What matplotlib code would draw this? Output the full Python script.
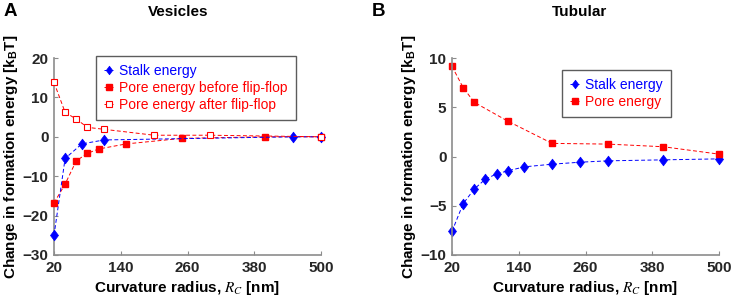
import numpy as np
import matplotlib
matplotlib.use("Agg")
from matplotlib import pyplot as plt
from matplotlib.path import Path

plt.rcParams['font.family'] = ['Liberation Sans', 'DejaVu Sans']
plt.rcParams['mathtext.fontset'] = 'stix'

# vesicles (panel A)
ves_stalk_x = [20, 40, 70, 110, 450, 500]
ves_stalk_y = [-25.0, -5.5, -1.8, -0.8, 0.0, 0.0]
ves_pore_before_x = [20, 40, 60, 80, 100, 150, 250, 400, 500]
ves_pore_before_y = [-16.8, -12.0, -6.1, -4.2, -3.1, -1.8, -0.4, 0.0, 0.0]
ves_pore_after_x = [20, 40, 60, 80, 110, 200, 300, 500]
ves_pore_after_y = [13.8, 6.2, 4.5, 2.4, 1.9, 0.4, 0.4, 0.0]

# tubular (panel B)
tub_stalk_x = [20, 40, 60, 80, 100, 120, 150, 200, 250, 300, 400, 500]
tub_stalk_y = [-7.6, -4.8, -3.3, -2.3, -1.77, -1.46, -1.05, -0.78, -0.58, -0.44, -0.34, -0.24]
tub_pore_x = [20, 40, 60, 120, 200, 300, 400, 500]
tub_pore_y = [9.15, 7.0, 5.5, 3.6, 1.33, 1.26, 0.99, 0.24]

xticks = [20, 140, 260, 380, 500]

BLUE = '#0000ff'
RED = '#ff0000'
AXC = '#8c8c8c'
TXC = '#262626'

# matlab-ish diamond, a bit narrower than tall
diamond = Path([(0, 1), (0.75, 0), (0, -1), (-0.75, 0), (0, 1)],
               [Path.MOVETO, Path.LINETO, Path.LINETO, Path.LINETO, Path.CLOSEPOLY])

fig = plt.figure(figsize=(7.33, 3.03), dpi=100)
W, H = 733, 303
axA = fig.add_axes([54 / W, 1 - 255 / H, 267 / W, 197 / H])
axB = fig.add_axes([452 / W, 1 - 255 / H, 267 / W, 197 / H])

line_kw = dict(ls=(0, (4, 2.5)), lw=0.7, clip_on=False)
dia_kw = dict(marker=diamond, ms=7.7, mfc=BLUE, mec=BLUE, mew=0.5, color=BLUE)
sq_kw = dict(marker='s', ms=4.6, mfc=RED, mec=RED, color=RED)


def style(ax, ylim, yticks, title, tx, letter, lx):
    ax.set_xlim(20, 500)
    ax.set_ylim(*ylim)
    ax.set_xticks(xticks)
    ax.set_yticks(yticks)
    for s in ['top', 'right']:
        ax.spines[s].set_visible(False)
    for s in ['left', 'bottom']:
        ax.spines[s].set_color(AXC)
        ax.spines[s].set_linewidth(1.2)
    ax.tick_params(direction='in', length=3, color=AXC, labelsize=11, labelcolor=TXC, pad=4)
    for lab in ax.get_xticklabels() + ax.get_yticklabels():
        lab.set_fontweight('bold')
    ax.set_xlabel('Curvature radius, $R_C$ [nm]', fontsize=11, fontweight='bold', color='black')
    ax.xaxis.set_label_coords(0.5, -0.122)
    ax.set_ylabel('Change in formation energy [k$_\\mathregular{B}$T]', fontsize=11,
                  fontweight='bold', color='black')
    ax.yaxis.set_label_coords(-0.128, 0.5)
    fig.text(tx / W, 1 - 12 / H, title, fontsize=11, fontweight='bold', ha='center', va='center')
    fig.text(lx / W, 1 - 12 / H, letter, fontsize=13.5, fontweight='bold', va='center', ha='left')


def legend_style(leg, colors):
    leg.get_frame().set_linewidth(1.0)
    for t, c in zip(leg.get_texts(), colors):
        t.set_color(c)


leg_kw = dict(loc='upper left', fontsize=10, frameon=True, fancybox=False, edgecolor='#333333',
              borderpad=0.6, handlelength=0.6, handletextpad=0.45, labelspacing=0.2,
              markerscale=0.8, borderaxespad=0)

# panel A -- open squares sit on top (they hide the 500 nm points)
axA.plot(ves_pore_after_x, ves_pore_after_y, **line_kw, marker='s', ms=4.6, mfc='white',
         mec=RED, mew=0.8, color=RED, label='Pore energy after flip-flop', zorder=5)
axA.plot(ves_pore_before_x, ves_pore_before_y, **line_kw, **sq_kw,
         label='Pore energy before flip-flop', zorder=3)
axA.plot(ves_stalk_x, ves_stalk_y, **line_kw, **dia_kw, label='Stalk energy', zorder=4)
style(axA, (-30, 20), [-30, -20, -10, 0, 10, 20], 'Vesicles', 178, 'A', 4)
h, l = axA.get_legend_handles_labels()
legA = axA.legend(h[::-1], l[::-1], bbox_to_anchor=(42 / 267, 1 + 2 / 197), **leg_kw)
legend_style(legA, [BLUE, RED, RED])

# panel B
axB.plot(tub_stalk_x, tub_stalk_y, **line_kw, **dia_kw, label='Stalk energy')
axB.plot(tub_pore_x, tub_pore_y, **line_kw, **sq_kw, label='Pore energy')
style(axB, (-10, 10), [-10, -5, 0, 5, 10], 'Tubular', 580, 'B', 372)
legB = axB.legend(bbox_to_anchor=(110 / 267, 1 - 12 / 197), **leg_kw)
legend_style(legB, [BLUE, RED])

fig.savefig('out.png', dpi=100)
